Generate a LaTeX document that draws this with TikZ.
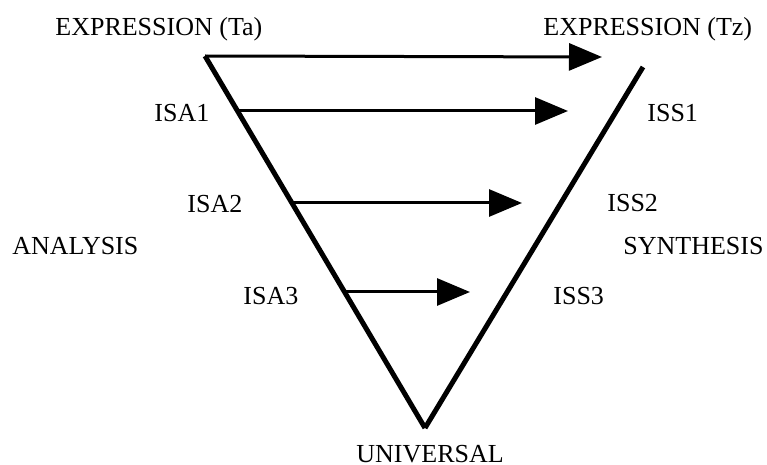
\documentclass[tikz,border=0pt]{standalone}
\usepackage{fontspec}
\setmainfont{Liberation Serif}
\usepackage{tikz}
\usetikzlibrary{arrows.meta}

\begin{document}
\begin{tikzpicture}[
        x=0.5pt, y=-0.5pt,
        txt/.style={anchor=base west, inner sep=0pt, font=\fontsize{13pt}{15pt}\selectfont},
        side/.style={line width=2.5pt},
        flow/.style={-{Triangle[length=16.5pt, width=13.5pt]}, line width=1.5pt}
    ]
    \useasboundingbox (0,0) rectangle (767,465);

    % Corners of the triangle
    \coordinate (ta) at (205,56);
    \coordinate (univ) at (425,428);
    \coordinate (tz) at (643,67);

    % Sides
    \draw[side] (ta) -- (univ);
    \draw[side] (univ) -- (tz);

    % Start and end points of the arrows
    \coordinate (a1) at (238,111);
    \coordinate (a2) at (293,203);
    \coordinate (a3) at (346,292);
    \coordinate (e0) at (602,57);
    \coordinate (e1) at (568,111);
    \coordinate (e2) at (522,203);
    \coordinate (e3) at (470,292);

    % Arrows
    \draw[flow] (ta) -- (e0);
    \draw[flow] (a1) -- (e1);
    \draw[flow] (a2) -- (e2);
    \draw[flow] (a3) -- (e3);

    % Labels
    \node[txt] (exta) at (55,36) {EXPRESSION (Ta)};
    \node[txt] (extz) at (543,36) {EXPRESSION (Tz)};
    \node[txt] (isa1) at (154,122) {ISA1};
    \node[txt] (isa2) at (187,213) {ISA2};
    \node[txt] (isa3) at (243,305) {ISA3};
    \node[txt] (iss1) at (647,122) {ISS1};
    \node[txt] (iss2) at (607,212) {ISS2};
    \node[txt] (iss3) at (553,305) {ISS3};
    \node[txt] (ana) at (12,255) {ANALYSIS};
    \node[txt] (syn) at (623,255) {SYNTHESIS};
    \node[txt] (uni) at (356,462) {UNIVERSAL};

\end{tikzpicture}
\end{document}
